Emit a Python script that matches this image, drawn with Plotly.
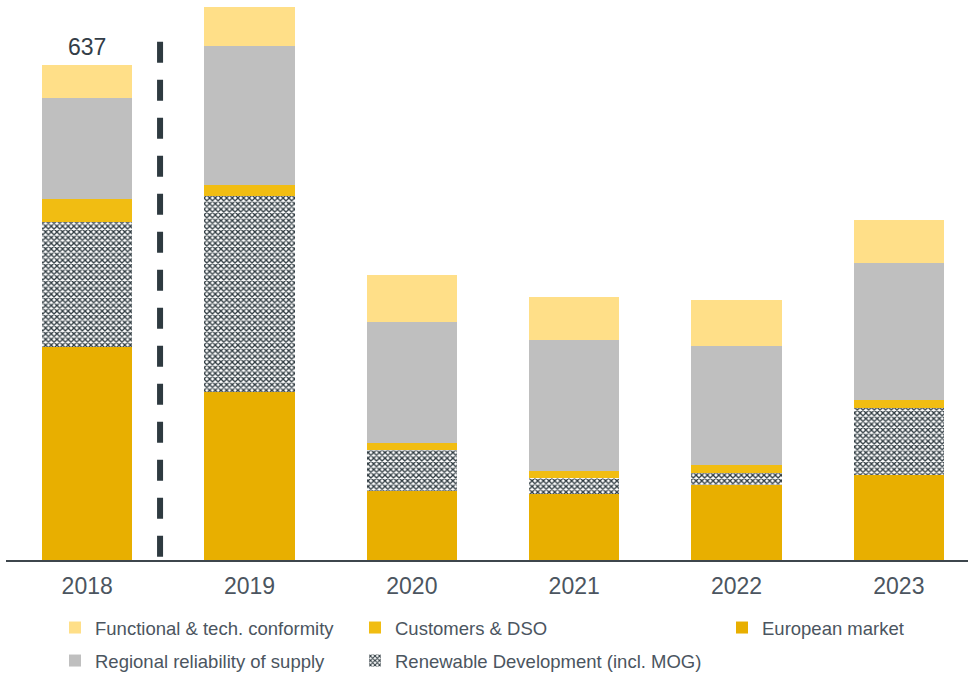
import plotly.graph_objects as go

years = ["2018", "2019", "2020", "2021", "2022", "2023"]
european = [274, 216, 89, 85, 97, 110]
renewable = [161, 252, 52, 21, 15, 86]
customers = [30, 14, 9, 9, 10, 10]
regional = [130, 180, 156, 168, 153, 176]
functional = [42, 50, 61, 56, 60, 56]
total_2018_label = "637"

C_FUNC = "#FFDF88"
C_CUST = "#F1BD12"
C_EURO = "#E8AF00"
C_REG = "#BFBFBF"
C_DARK = "#2E3A40"

W, H = 968, 673
xpos = list(range(len(years)))
fig = go.Figure()

series = [
    ("European market", european, dict(color=C_EURO), "legend3"),
    ("Renewable Development (incl. MOG)", renewable,
     dict(color="white", pattern=dict(shape="x", fgcolor=C_DARK, bgcolor="white", size=4, solidity=0.55, fillmode="replace")),
     "legend5"),
    ("Customers & DSO", customers, dict(color=C_CUST), "legend2"),
    ("Regional reliability of supply", regional, dict(color=C_REG), "legend4"),
    ("Functional & tech. conformity", functional, dict(color=C_FUNC), "legend"),
]
for name, vals, mk, lg in series:
    fig.add_trace(go.Bar(x=xpos, y=vals, name=name, marker=dict(line=dict(width=0), **mk),
                         legend=lg, customdata=years, hovertemplate="%{customdata}: %{y}<extra>" + name + "</extra>"))

# dashed separator between 2018 and 2019
fig.add_shape(type="line", xref="x", yref="y", x0=0.449, x1=0.449, y0=667, y1=0,
              line=dict(color=C_DARK, width=6, dash="21px,17px"))

total_2018 = sum(v[0] for v in [european, renewable, customers, regional, functional])
fig.add_annotation(x=xpos[0], y=total_2018,
                   text=total_2018_label, showarrow=False, yanchor="bottom", yshift=3,
                   font=dict(size=23, color="#333D47", family="Liberation Sans, Arial"))

lfont = dict(size=18.5, color="#4B5560", family="Liberation Sans, Arial")
legpos = {
    "legend": (55, 628),
    "legend4": (55, 661),
    "legend2": (355, 628),
    "legend5": (355, 661),
    "legend3": (722, 628),
}
leg_layout = {}
for key, (px, py) in legpos.items():
    leg_layout[key] = dict(xref="container", yref="container", x=px / W, y=1 - py / H,
                           xanchor="left", yanchor="middle", font=lfont,
                           bgcolor="rgba(0,0,0,0)", borderwidth=0)

fig.update_layout(
    width=W, height=H,
    margin=dict(l=6, r=0, t=0, b=113, autoexpand=False),
    barmode="stack", bargap=0.445,
    plot_bgcolor="white", paper_bgcolor="white",
    showlegend=True,
    **leg_layout,
)
fig.update_xaxes(range=[-0.5, 5.426], showline=True, linecolor="#3D464C", linewidth=2,
                 showgrid=False, zeroline=False, ticks="", tickmode="array", tickvals=xpos, ticktext=years,
                 tickfont=dict(size=23, color="#4B5560", family="Liberation Sans, Arial"),
                 ticklabelstandoff=4, automargin=False)
fig.update_yaxes(range=[0, 720.7], visible=False, showgrid=False, zeroline=False, automargin=False)

fig.write_html("out.html")
